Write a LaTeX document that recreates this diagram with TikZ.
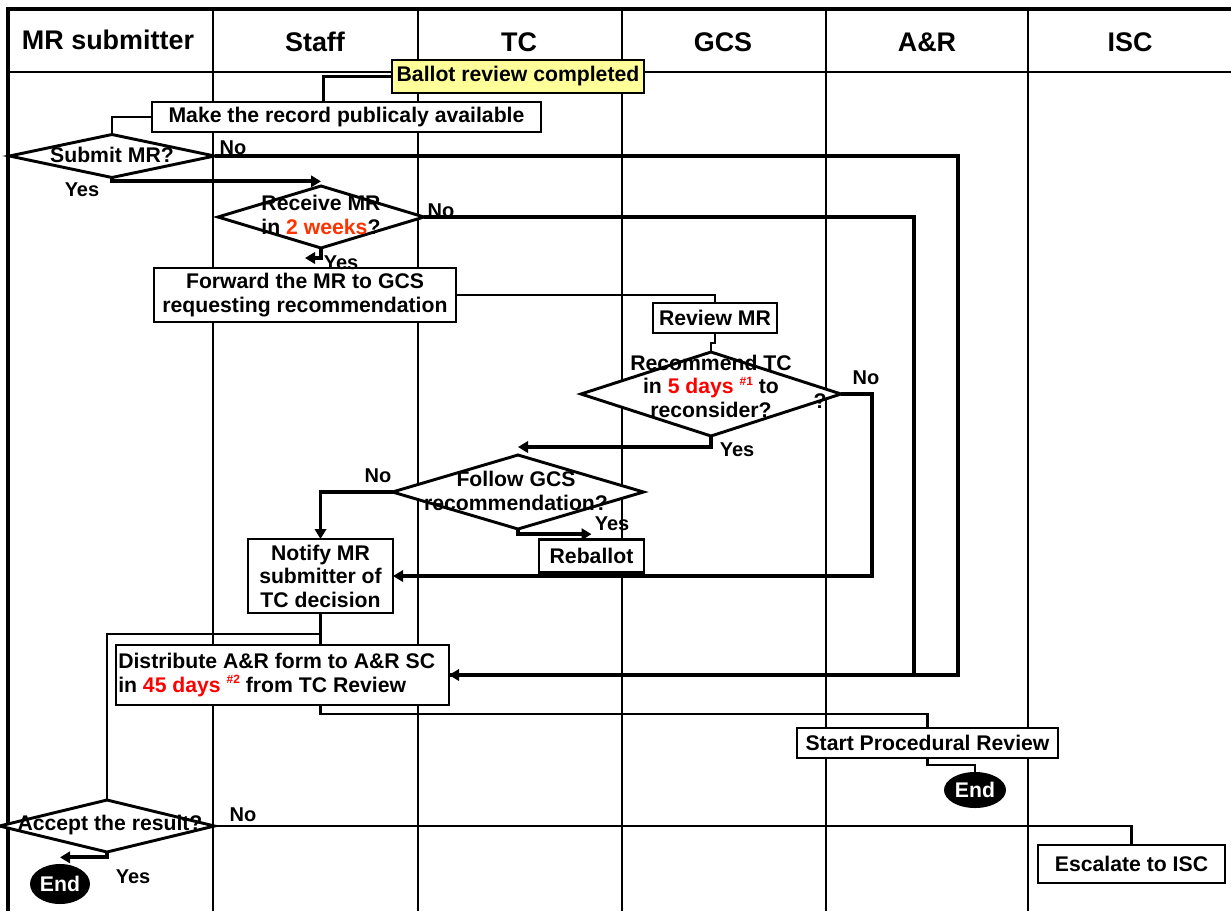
\documentclass[tikz,border=0pt]{standalone}
\usepackage{fontspec}
\setmainfont{Liberation Sans}
\usetikzlibrary{shapes.geometric,arrows.meta,calc}
\definecolor{orng}{HTML}{FF3300}
\definecolor{rd}{HTML}{FF0000}
\definecolor{ylw}{HTML}{FFFF99}
\newcommand{\supnote}[1]{\raisebox{0.4em}{\fontsize{9}{9}\selectfont #1}}
\begin{document}
\begin{tikzpicture}[x=0.75pt,y=-0.75pt,
  every node/.style={font=\bfseries\fontsize{15.9}{17.6}\selectfont},
  sz/.style n args={2}{minimum width=#1*0.75pt, minimum height=#2*0.75pt},
  box/.style={draw, line width=2.2pt, fill=white, inner sep=0pt, outer sep=0pt, align=center},
  dia/.style={draw, diamond, line width=2.2pt, fill=white, inner sep=0pt, outer sep=0pt},
  txt/.style={align=center, inner sep=0pt},
  lbl/.style={inner sep=0pt, font=\bfseries\fontsize{15}{17}\selectfont},
  hdr/.style={inner sep=0pt, font=\bfseries\fontsize{20.2}{24}\selectfont},
  endn/.style={ellipse, fill=black, text=white, inner sep=0pt, outer sep=0pt},
  conn/.style={line width=1.9pt},
  tconn/.style={line width=2.8pt},
  arr/.style={tconn, -{Triangle[length=7.5pt,width=8.5pt]}}
]
\useasboundingbox (0,0) rectangle (1231,911);
% frame and lanes
\draw[line width=2.8pt] (8,911) -- (8,9) -- (1231,9);
\draw[line width=1.7pt] (8,72) -- (1231,72);
\foreach \x in {213,418,622,826,1028} \draw[line width=1.6pt] (\x,9) -- (\x,911);
% headers
\node[hdr] (h1) at (108,40) {MR submitter};
\node[hdr] (h2) at (315,42) {Staff};
\node[hdr] (h3) at (519,42) {TC};
\node[hdr] (h4) at (723,42) {GCS};
\node[hdr] (h5) at (927,42) {A\&R};
\node[hdr] (h6) at (1130,42) {ISC};
% nodes
\node[box, fill=ylw, sz={252}{33}] (ballot) at (518,76.5) {Ballot review completed};
\node[box, sz={389}{30}] (make) at (346.5,117) {Make the record publicaly available};
\node[dia, sz={205}{43}] (sub) at (112,156) {};
\node[txt] (subT) at (112,155) {Submit MR?};
\node[dia, sz={206}{62}] (rec) at (321,217) {};
\node[txt] (recT) at (321,215) {Receive MR\\in {\color{orng}2 weeks}?};
\node[box, sz={302}{54}] (fwd) at (305,295) {Forward the MR to GCS\\requesting recommendation};
\node[box, sz={124}{30}] (rev) at (715,318) {Review MR};
\node[dia, sz={260}{84}] (rc) at (711,394) {};
\node[txt] (rcT) at (711,386) {Recommend TC\\in {\color{rd}5 days \supnote{\#1}} to\\reconsider?};
\node[txt] (qm) at (820,401) {?};
\node[dia, sz={251}{74}] (fol) at (518,492) {};
\node[txt] (folT) at (516,491) {Follow GCS\\recommendation?};
\node[box, sz={105}{33}] (reb) at (591.5,556) {Reballot};
\node[box, sz={145}{74}] (not) at (320.5,576) {Notify MR\\submitter of\\TC decision};
\node[box, sz={333}{60}] (dist) at (282.5,675) {};
\node[txt, align=left, anchor=west] (distT) at (118,675) {Distribute A\&R form to A\&R SC\\in {\color{rd}45 days \supnote{\#2}} from TC Review};
\node[box, sz={261}{30}] (start) at (927.5,743) {Start Procedural Review};
\node[endn, sz={62}{36}] (end1) at (975,790) {End};
\node[dia, sz={215}{52}] (acc) at (107,826) {};
\node[txt] (accT) at (110,825) {Accept the result?};
\node[box, sz={187}{38}] (esc) at (1131.5,864) {Escalate to ISC};
\node[endn, sz={60}{40}] (end2) at (60,884) {End};
% labels
\node[lbl] (l1) at (233,148) {No};
\node[lbl] (l2) at (82,190) {Yes};
\node[lbl] (l3) at (441,211) {No};
\node[lbl] (l4) at (341,263) {Yes};
\node[lbl] (l5) at (866,378) {No};
\node[lbl] (l6) at (737,450) {Yes};
\node[lbl] (l7) at (378,476) {No};
\node[lbl] (l8) at (612,524) {Yes};
\node[lbl] (l9) at (243,815) {No};
\node[lbl] (l10) at (133,877) {Yes};
% connectors
\draw[conn] (ballot.west) -| ([xshift=-17.25pt]make.north);
\draw[conn] (make.west) -| (sub.north);
\draw[arr] (sub.east) -- ++(743.5,0) |- (dist.east);
\draw[arr] (sub.south) |- ([yshift=3.5pt]rec.north);
\draw[tconn] (rec.east) -- ++(490,0) |- (dist.east);
\draw[arr] (rec.south) |- ([yshift=7.5pt]fwd.north);
\draw[conn] (fwd.east) -| (rev.north);
\draw[conn] (rev.south) -- ++(0,10) -| (rc.north);
\draw[arr] (rc.east) -- ++(31,0) |- (not.east);
\draw[arr] (rc.south) |- ([yshift=6pt]fol.north);
\draw[arr] (fol.west) -| (not.north);
\draw[arr] (fol.south) |- ([yshift=4pt]reb.north);
\draw[conn] (not.south) -- (not.south |- dist.north);
\draw[conn] (not.south) -- ++(0,21) -| (acc.north);
\draw[conn] ([xshift=28.5pt]dist.south) -- ++(0,9) -| (start.north);
\draw[conn] (start.south) -- ++(0,7) -| (end1.north);
\draw[conn] (acc.east) -| (esc.north);
\draw[arr] (acc.south) |- ([yshift=5pt]end2.north);
\end{tikzpicture}
\end{document}
